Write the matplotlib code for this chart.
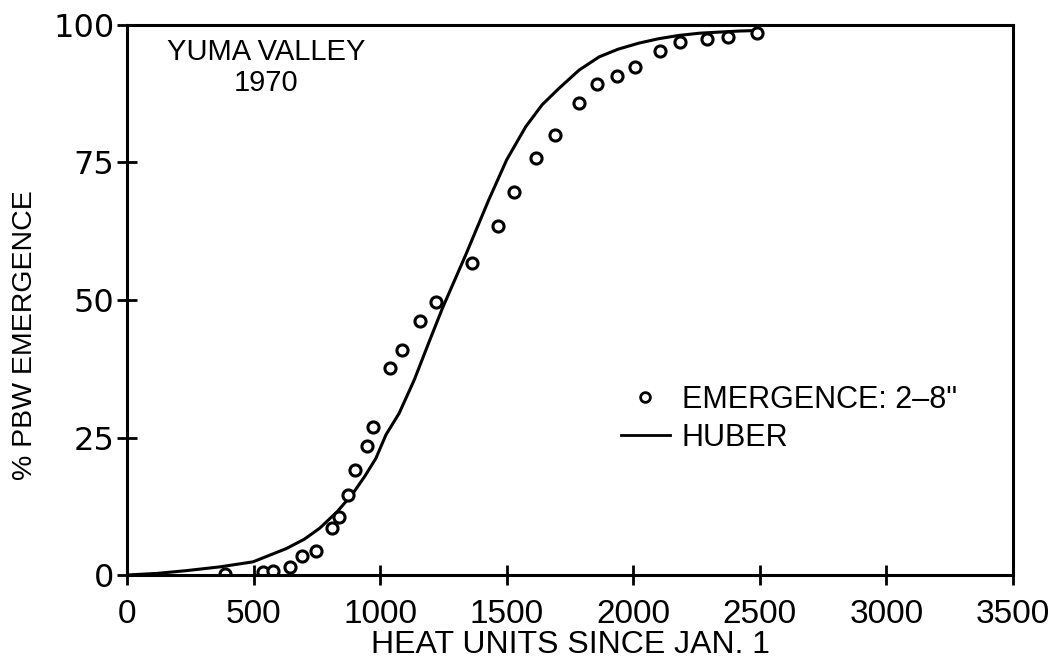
import matplotlib.pyplot as plt
from matplotlib.lines import Line2D

# observed emergence (heat units, % emerged)
obs_hu = [386, 537, 576, 644, 691, 746, 810, 836, 873, 899, 950, 972, 1039, 1088,
          1157, 1219, 1362, 1464, 1529, 1614, 1689, 1787, 1857, 1936, 2006, 2104,
          2186, 2291, 2374, 2488]
obs_pct = [0.1, 0.5, 0.7, 1.5, 3.5, 4.4, 8.5, 10.6, 14.5, 19.1, 23.5, 27.0, 37.7, 40.9,
           46.2, 49.6, 56.8, 63.5, 69.7, 75.8, 80.0, 85.8, 89.2, 90.7, 92.4, 95.2,
           96.9, 97.5, 97.9, 98.5]

# Huber model curve
huber_hu = [0, 120, 235, 370, 498, 629, 700, 761, 830, 892, 940, 983, 1023, 1075, 1135,
            1190, 1246, 1300, 1338, 1429, 1500, 1575, 1640, 1707, 1786, 1865, 1940,
            2022, 2100, 2180, 2260, 2337, 2420, 2495]
huber_pct = [0, 0.3, 0.8, 1.5, 2.4, 4.8, 6.5, 8.5, 11.5, 14.8, 18.0, 21.2, 25.5, 29.4,
             35.5, 42.0, 48.5, 54.2, 58.2, 68.2, 75.5, 81.5, 85.5, 88.5, 91.8, 94.2,
             95.6, 96.7, 97.5, 98.1, 98.5, 98.7, 98.9, 99.0]

xticks = [0, 500, 1000, 1500, 2000, 2500, 3000, 3500]
yticks = [0, 25, 50, 75, 100]

fig = plt.figure(figsize=(10.6, 6.66), dpi=100)
ax = fig.add_axes([0.1198, 0.1366, 0.8359, 0.8259])

ax.plot(huber_hu, huber_pct, color="black", lw=2.2)
ax.plot(obs_hu, obs_pct, "o", mfc="white", mec="black", ms=8, mew=2.2, ls="none")

ax.set_xlim(0, 3500)
ax.set_ylim(0, 100)
ax.set_xticks(xticks)
ax.set_yticks(yticks)
for s in ax.spines.values():
    s.set_linewidth(2.2)
ax.tick_params(direction="inout", length=14, width=2, top=False, right=False)
ax.tick_params(axis="x", pad=10)
ax.tick_params(axis="y", pad=2)
for lab in ax.get_xticklabels():
    lab.set_fontfamily("Liberation Sans")
    lab.set_fontsize(24)
for lab in ax.get_yticklabels():
    lab.set_fontfamily("DejaVu Sans")
    lab.set_fontsize(23)

ax.set_xlabel("HEAT UNITS SINCE JAN. 1", fontsize=23, family="Liberation Sans", labelpad=0)
ax.set_ylabel("% PBW EMERGENCE", fontsize=20.5, family="Liberation Sans")
ax.yaxis.set_label_coords(-0.1, 0.436)

ax.text(0.157, 0.976, "YUMA VALLEY\n1970", transform=ax.transAxes, ha="center", va="top",
        fontsize=21, family="Liberation Sans", linespacing=1.12)

handles = [
    Line2D([], [], marker="o", ls="none", mfc="white", mec="black", ms=7, mew=2),
    Line2D([], [], color="black", lw=2),
]
ax.legend(handles, ['EMERGENCE: 2\u20138"', "HUBER"], loc="upper left",
          bbox_to_anchor=(0.54, 0.373), frameon=False,
          prop={"family": "Liberation Sans", "size": 22},
          handlelength=1.6, handletextpad=0.4, labelspacing=0.25, borderpad=0)

fig.savefig("out.png", dpi=100)
